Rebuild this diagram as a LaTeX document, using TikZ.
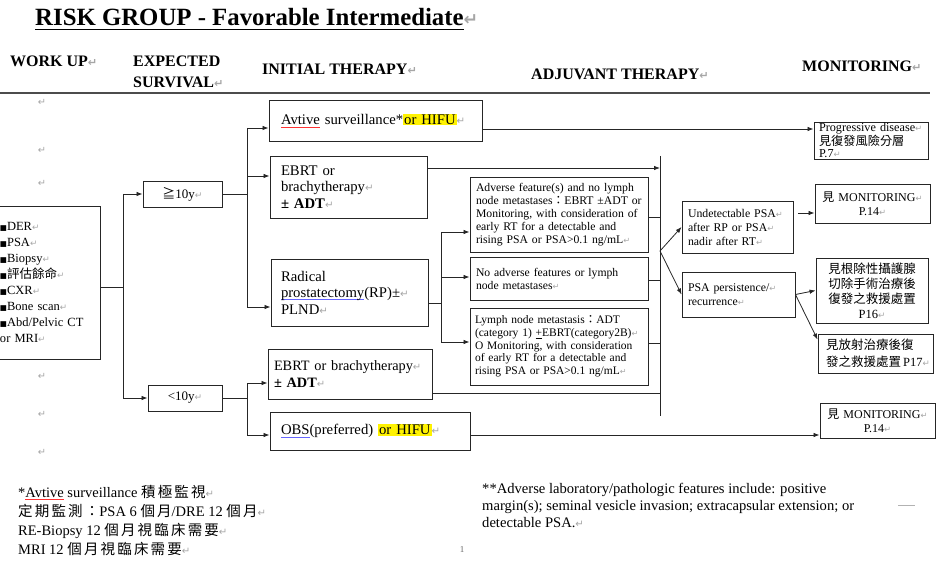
\documentclass[tikz,border=0pt]{standalone}
\usepackage{fontspec}
\setmainfont{Liberation Serif}
\newfontfamily\zhfont{Noto Sans CJK TC}
\newfontfamily\zhfontw[LetterSpace=15]{Noto Sans CJK TC}
\newfontfamily\djv{DejaVu Sans}
\usetikzlibrary{arrows.meta}
\newcommand{\zh}[1]{{\zhfont #1}}
\newcommand{\zhw}[1]{{\zhfontw #1}}
\newcommand{\rt}{{\djv\color{black!35}\scalebox{0.7}{↵}}}
\newcommand{\sq}{{\djv\scalebox{0.6}{■}}}
\newcommand{\hl}[1]{{\setlength{\fboxsep}{1pt}\colorbox{yellow}{#1}}}
\newsavebox\ulbox
\newcommand{\blueul}[1]{\sbox\ulbox{#1}\mbox{\rlap{\textcolor{blue!60}{\rule[-2.5pt]{\wd\ulbox}{0.7pt}}}\usebox\ulbox}}
\newcommand{\redwav}[1]{\sbox\ulbox{#1}\mbox{\rlap{\textcolor{red!80}{\rule[-3pt]{\wd\ulbox}{0.6pt}}}\usebox\ulbox}}
\newcommand{\titleul}[1]{\sbox\ulbox{#1}\mbox{\rlap{\rule[-4.5pt]{\wd\ulbox}{1.8pt}}\usebox\ulbox}}
\begin{document}
\begin{tikzpicture}[x=1pt,y=-1pt,
  box/.style={draw=black!85, line width=0.9pt, inner ysep=1pt, align=left},
  line/.style={draw=black!85, line width=0.8pt},
  arr/.style={line, -{Latex[length=6pt,width=4.5pt]}},
  hdr/.style={inner sep=0pt, anchor=base west, font=\bfseries\fontsize{16}{18}\selectfont},
  fA/.style={font=\fontsize{14.7}{16.5}\selectfont},
  fB/.style={font=\fontsize{11.7}{13}\selectfont},
  fC/.style={font=\fontsize{12}{14}\selectfont},
  pmark/.style={inner sep=0pt, font=\fontsize{14}{16}\selectfont}
]
\useasboundingbox (0,0) rectangle (944,561);

% title and headers
\node[inner sep=0pt, anchor=base west, font=\bfseries\fontsize{24.8}{28}\selectfont] (title) at (35,26) {\titleul{RISK GROUP - Favorable Intermediate}\rt};
\node[hdr] (h1) at (10,67) {WORK UP\rt};
\node[hdr] (h2) at (133,67) {EXPECTED};
\node[hdr] (h2b) at (133,88) {SURVIVAL\rt};
\node[hdr] (h3) at (262,75) {INITIAL THERAPY\rt};
\node[hdr] (h4) at (531,80) {ADJUVANT THERAPY\rt};
\node[hdr] (h5) at (802,72) {MONITORING\rt};
\coordinate (hl) at (0,93);
\coordinate (hr) at (930,93);
\draw[black!70, line width=1.2pt] (hl) -- (hr);

% stray paragraph marks
\node[pmark] (s1) at (42,102) {\rt};
\node[pmark] (s2) at (42,150) {\rt};
\node[pmark] (s3) at (42,183) {\rt};
\node[pmark] (s4) at (42,376) {\rt};
\node[pmark] (s5) at (42,414) {\rt};
\node[pmark] (s6) at (42,452) {\rt};

% work up
\node[box, font=\fontsize{12.5}{16}\selectfont, minimum width=105pt, minimum height=153pt, inner xsep=5pt, text width=95pt] (workup) at (47.5,282.5)
 {\sq DER\rt\\\sq PSA\rt\\\sq Biopsy\rt\\\sq\zh{評估餘命}\rt\\\sq CXR\rt\\\sq Bone scan\rt\\\sq Abd/Pelvic CT\\or MRI\rt};

% survival
\node[box, font=\fontsize{13}{15}\selectfont, minimum width=79pt, minimum height=26pt, inner xsep=5pt, text width=69pt, align=center] (ge10) at (182.5,194) {\zh{≧}10y\rt};
\node[box, font=\fontsize{13}{15}\selectfont, minimum width=74pt, minimum height=26pt, inner xsep=5pt, text width=64pt, align=center] (lt10) at (185,398) {<10y\rt};

% initial therapy
\node[box, fA, minimum width=213pt, minimum height=41pt, inner xsep=12pt, text width=189pt] (active) at (375.5,120.5) {\redwav{Avtive} surveillance*\hl{or\,\,HIFU}\rt};
\node[box, fA, minimum width=157pt, minimum height=62pt, inner xsep=11pt, text width=135pt] (ebrt1) at (348.5,187) {EBRT or\\brachytherapy\rt\\\textbf{±\,\,ADT}\rt};
\node[box, fA, minimum width=157pt, minimum height=67pt, inner xsep=10pt, text width=137pt] (rp) at (349.5,292.5) {Radical\\\blueul{prostatectomy}(RP)±\rt\\PLND\rt};
\node[box, font=\fontsize{14.3}{17}\selectfont, minimum width=164pt, minimum height=50pt, inner xsep=6pt, text width=152pt] (ebrt2) at (350,374) {\mbox{EBRT or brachytherapy\rt}\\\textbf{±\,\,ADT}\rt};
\node[box, fA, minimum width=200pt, minimum height=38pt, inner xsep=11pt, text width=178pt] (obs) at (370,431) {\blueul{OBS}(preferred) \hl{or HIFU}\rt};

% adjuvant
\node[box, fB, minimum width=178pt, minimum height=75pt, inner xsep=6pt, text width=166pt] (adv) at (559,214.5)
 {Adverse feature(s) and no lymph\\node metastases\zh{：}EBRT ±ADT or\\Monitoring, with consideration of\\early RT for a detectable and\\rising PSA or PSA>0.1 ng/mL\rt};
\node[box, fB, minimum width=178pt, minimum height=43pt, inner xsep=6pt, text width=166pt] (noadv) at (559,278.5)
 {No adverse features or lymph\\node metastases\rt};
\node[box, font=\fontsize{11.5}{12.7}\selectfont, minimum width=178pt, minimum height=77pt, inner xsep=5pt, text width=168pt] (lymph) at (559,346.5)
 {Lymph node metastasis\zh{：}ADT\\\mbox{(category 1) \underline{+}EBRT(category2B)\rt}\\O Monitoring, with consideration\\of early RT for a detectable and\\rising PSA or PSA>0.1 ng/mL\rt};

% post-adjuvant status
\node[box, font=\fontsize{11.8}{14}\selectfont, minimum width=111pt, minimum height=52pt, inner xsep=6pt, text width=99pt] (undet) at (737.5,227)
 {Undetectable PSA\rt\\after RP or PSA\rt\\nadir after RT\rt};
\node[box, font=\fontsize{11.8}{14}\selectfont, minimum width=113pt, minimum height=45pt, inner xsep=6pt, text width=101pt] (persist) at (738.5,294.5)
 {PSA persistence/\rt\\recurrence\rt};

% monitoring
\node[box, font=\fontsize{12.2}{12}\selectfont, minimum width=114pt, minimum height=37pt, inner xsep=5pt, inner ysep=0pt, text width=104pt] (prog) at (871,140.5)
 {Progressive disease\rt\\\zh{見復發風險分層}\\P.7\rt};
\node[box, fC, minimum width=115pt, minimum height=39pt, inner xsep=5pt, text width=105pt, align=center] (mon1) at (872.5,203.5)
 {\zh{見} MONITORING\rt\\P.14\rt};
\node[box, font=\fontsize{12.5}{15}\selectfont, minimum width=112pt, minimum height=65pt, inner xsep=5pt, text width=102pt, align=center] (p16) at (872,290.5)
 {\zh{見根除性攝護腺}\\\zh{切除手術治療後}\\\zh{復發之救援處置}\\P16\rt};
\node[box, font=\fontsize{12.5}{17}\selectfont, minimum width=115pt, minimum height=39pt, inner xsep=8pt, text width=99pt] (p17) at (875.5,353.5)
 {\zh{見放射治療後復}\\\zh{發之救援處置}\,P17\rt};
\node[box, fC, minimum width=115pt, minimum height=35pt, inner xsep=5pt, text width=105pt, align=center] (mon2) at (877.5,420.5)
 {\zh{見} MONITORING\rt\\P.14\rt};

% junction coordinates
\coordinate (jw) at (123,287);
\coordinate (ja) at (123,194);
\coordinate (jb) at (123,398);
\coordinate (kb) at (247,194);
\coordinate (k1) at (247,128);
\coordinate (k2) at (247,176);
\coordinate (k3) at (247,307);
\coordinate (kc) at (247,398);
\coordinate (k4) at (247,383);
\coordinate (k5) at (247,435);
\coordinate (r0) at (441,303);
\coordinate (r1) at (441,232);
\coordinate (r2) at (441,277);
\coordinate (r3) at (441,342);
\coordinate (c0) at (660,156);
\coordinate (c9) at (660,416);
\coordinate (c1) at (660,168);
\coordinate (c2) at (660,217);
\coordinate (c3) at (660,280);
\coordinate (c4) at (660,343);
\coordinate (c5) at (660,393);
\coordinate (cm) at (660,251);
\coordinate (p0) at (0,129);
\coordinate (m1) at (0,213);
\coordinate (o0) at (0,435);

% work up to survival
\draw[line] (workup.east |- jw) -- (jw);
\draw[line] (ja) -- (jb);
\draw[arr] (ja) -- (ge10.west);
\draw[arr] (jb) -- (lt10.west);

% survival to initial therapy
\draw[line] (ge10.east) -- (kb);
\draw[line] (k1) -- (k3);
\draw[arr] (k1) -- (active.west |- k1);
\draw[arr] (k2) -- (ebrt1.west |- k2);
\draw[arr] (k3) -- (rp.west |- k3);
\draw[line] (lt10.east) -- (kc);
\draw[line] (k4) -- (k5);
\draw[arr] (k4) -- (ebrt2.west |- k4);
\draw[arr] (k5) -- (obs.west |- k5);

% RP to adjuvant
\draw[line] (rp.east |- r0) -- (r0);
\draw[line] (r1) -- (r3);
\draw[arr] (r1) -- (adv.west |- r1);
\draw[arr] (r2) -- (noadv.west |- r2);
\draw[arr] (r3) -- (lymph.west |- r3);

% collector
\draw[line] (c0) -- (c9);
\draw[arr] (ebrt1.east |- c1) -- (c1);
\draw[line] (adv.east |- c2) -- (c2);
\draw[line] (noadv.east |- c3) -- (c3);
\draw[line] (lymph.east |- c4) -- (c4);
\draw[line] (ebrt2.east |- c5) -- (c5);
\draw[arr] (cm) -- (undet.west);
\draw[arr] (cm) -- (persist.west);

% to monitoring
\draw[arr] (active.east |- p0) -- (prog.west |- p0);
\draw[arr, shorten <=5pt] (undet.east |- m1) -- (mon1.west |- m1);
\draw[arr] (persist.east) -- (p16.west);
\draw[arr] (persist.east) -- ([yshift=-6pt]p17.north west);
\draw[arr] (obs.east |- o0) -- (mon2.west |- o0);

% footnotes
\node[inner sep=0pt, anchor=base west, align=left, font=\fontsize{14.5}{19}\selectfont] (fn1) at (18,554)
 {*\redwav{Avtive} surveillance \zhw{積極監視}\rt\\
  \zhw{定期監測：}PSA 6 \zhw{個月}/DRE 12 \zhw{個月}\rt\\
  RE-Biopsy 12 \zhw{個月視臨床需要}\rt\\
  MRI 12 \zhw{個月視臨床需要}\rt};
\node[inner sep=0pt, anchor=base west, align=left, font=\fontsize{14.6}{17}\selectfont] (fn2) at (482,527)
 {**Adverse laboratory/pathologic features include: positive\\
  margin(s); seminal vesicle invasion; extracapsular extension; or\\
  detectable PSA.\rt};
\node[inner sep=0pt, anchor=base, font=\fontsize{9}{10}\selectfont, text=black!60] (pg) at (462,552) {1};
\coordinate (d1) at (898,505);
\coordinate (d2) at (915,505);
\draw[black!30, line width=0.7pt] (d1) -- (d2);
\end{tikzpicture}
\end{document}
